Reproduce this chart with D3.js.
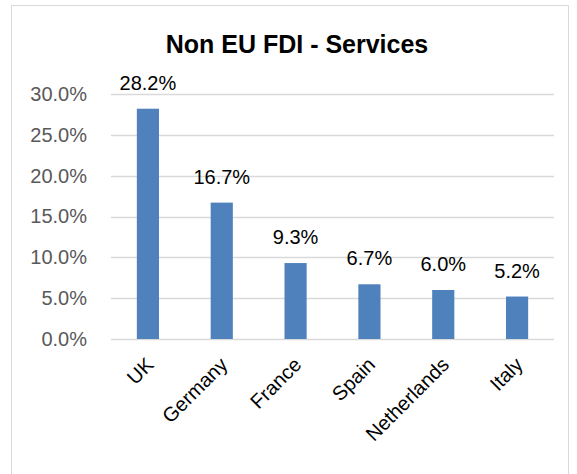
<!DOCTYPE html>
<html>
<head>
<meta charset="utf-8">
<script src="https://cdn.jsdelivr.net/npm/d3@7"></script>
<style>
  body { margin: 0; background: #fff; }
  svg { font-family: "Liberation Sans", Arial, sans-serif; }
</style>
</head>
<body>
<svg></svg>
<script>
// chart data
let countries = ["UK", "Germany", "France", "Spain", "Netherlands", "Italy"];
let shares = [28.2, 16.7, 9.3, 6.7, 6.0, 5.2];
let yTicks = [0, 5, 10, 15, 20, 25, 30];

let width = 577, height = 474;
let svg = d3.select("svg").attr("width", width).attr("height", height);

// outer chart border
svg.append("rect")
    .attr("x", 11.5).attr("y", 5.5)
    .attr("width", 557).attr("height", 480)
    .attr("fill", "none").attr("stroke", "#d9d9d9");

let plotLeft = 111, plotRight = 554, plotTop = 94, plotBottom = 339;

let x = d3.scaleBand().domain(countries).range([plotLeft, plotRight]).paddingInner(0.7).paddingOuter(0.35);
let y = d3.scaleLinear().domain([0, 30]).range([plotBottom, plotTop]);

// gridlines
svg.append("g").selectAll("line").data(yTicks).join("line")
    .attr("x1", plotLeft).attr("x2", plotRight)
    .attr("y1", d => Math.round(y(d)) + 0.5).attr("y2", d => Math.round(y(d)) + 0.5)
    .attr("stroke", "#d9d9d9").attr("stroke-width", 1.5);

// y axis labels
let yAxis = d3.axisLeft(y).tickValues(yTicks).tickSize(0).tickPadding(24)
    .tickFormat(d => d.toFixed(1) + "%");
let ya = svg.append("g").attr("transform", `translate(${plotLeft},0)`).call(yAxis);
ya.select(".domain").remove();
ya.selectAll("text").attr("fill", "#595959").style("font-size", "20px")
    .style("font-family", "'Liberation Sans', Arial, sans-serif");

// bars
svg.append("g").selectAll("rect").data(shares).join("rect")
    .attr("x", (d, i) => x(countries[i]))
    .attr("y", d => y(d))
    .attr("width", x.bandwidth())
    .attr("height", d => y(0) - y(d))
    .attr("fill", "#4f81bd");

// value labels
svg.append("g").selectAll("text").data(shares).join("text")
    .attr("x", (d, i) => x(countries[i]) + x.bandwidth() / 2)
    .attr("y", d => y(d) - 19)
    .attr("text-anchor", "middle")
    .style("font-size", "20px")
    .attr("fill", "#000")
    .text(d => d.toFixed(1) + "%");

// category axis, rotated labels
let xAxis = d3.axisBottom(x).tickSize(0).tickPadding(0);
let xa = svg.append("g").attr("transform", `translate(0,${plotBottom})`).call(xAxis);
xa.select(".domain").remove();
xa.selectAll("text")
    .attr("fill", "#000")
    .style("font-size", "20px")
    .style("font-family", "'Liberation Sans', Arial, sans-serif")
    .attr("text-anchor", "end")
    .attr("dy", null)
    .attr("transform", "translate(7,27) rotate(-45)");

// title
svg.append("text")
    .attr("x", 297).attr("y", 53)
    .attr("text-anchor", "middle")
    .style("font-size", "25px").style("font-weight", "bold")
    .text("Non EU FDI - Services");
</script>
</body>
</html>
